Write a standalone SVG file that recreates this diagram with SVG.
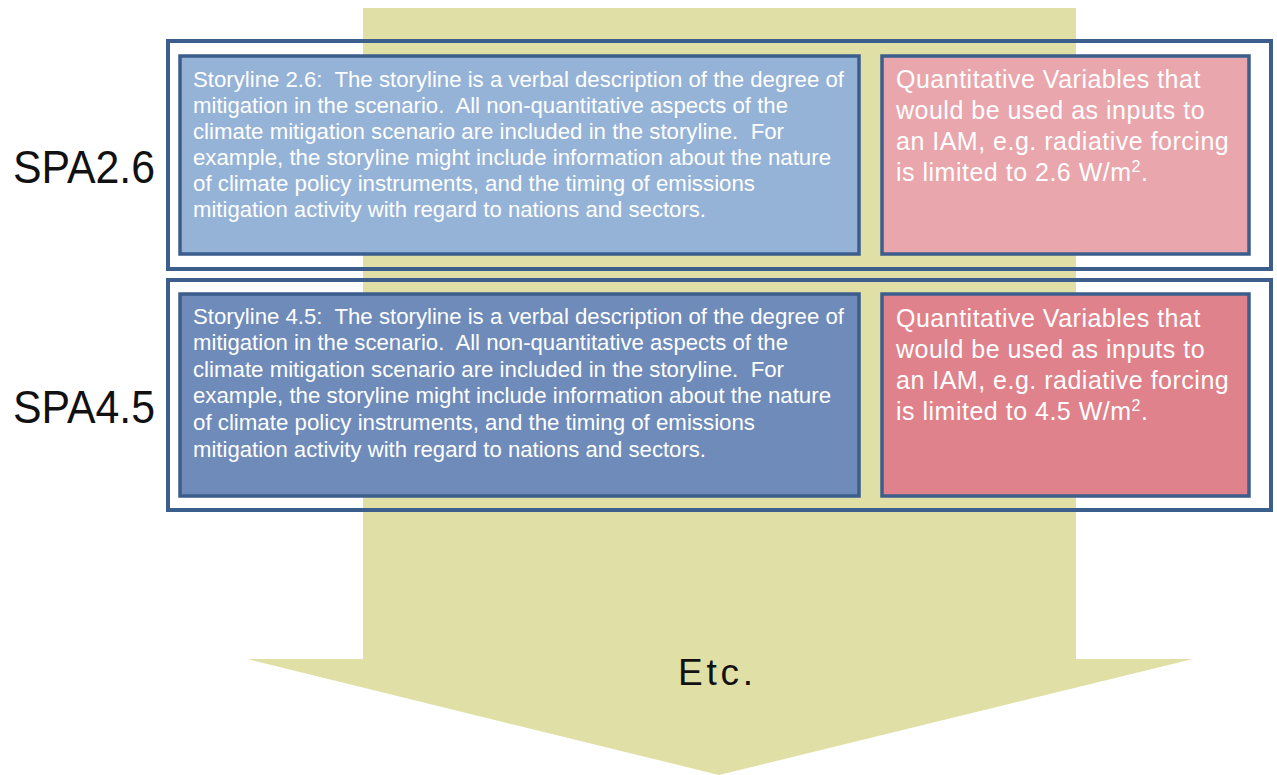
<svg xmlns="http://www.w3.org/2000/svg" width="1277" height="775" viewBox="0 0 1277 775">
<style>
.frame{fill:none;stroke:#3B5E8C;stroke-width:4}
.box{stroke:#3B5E8C;stroke-width:3.5}
.story{font-family:"Liberation Sans",Arial,sans-serif;font-size:22px;fill:#FFFFFF;white-space:pre}
.quant{font-family:"Liberation Sans",Arial,sans-serif;font-size:25px;fill:#FFFFFF;letter-spacing:0.5px}
.lbl{font-family:"Liberation Sans",Arial,sans-serif;font-size:47px;fill:#111111}
.etc{font-family:"Liberation Sans",Arial,sans-serif;font-size:37px;fill:#111111}
</style>
<rect width="1277" height="775" fill="#FFFFFF"/>
<g id="arrow">
<polygon points="363,8 1076,8 1076,659 1193,659 719,775 247,659 363,659" fill="#E0DFA5"/>
<text class="etc" x="678" y="685" textLength="75" lengthAdjust="spacing">Etc.</text>
</g>
<g id="spa26">
<text class="lbl" x="13" y="183" textLength="142" lengthAdjust="spacingAndGlyphs">SPA2.6</text>
<rect class="frame" x="168" y="41" width="1103" height="228"/>
<g id="storyline26">
<rect class="box" x="180" y="56" width="679" height="198" fill="#95B3D7"/>
<text class="story" xml:space="preserve"><tspan x="193" y="87" textLength="651" lengthAdjust="spacingAndGlyphs">Storyline 2.6:  The storyline is a verbal description of the degree of</tspan><tspan x="193" y="113" textLength="595" lengthAdjust="spacingAndGlyphs">mitigation in the scenario.  All non-quantitative aspects of the</tspan><tspan x="193" y="139" textLength="591" lengthAdjust="spacingAndGlyphs">climate mitigation scenario are included in the storyline.  For</tspan><tspan x="193" y="165" textLength="638" lengthAdjust="spacingAndGlyphs">example, the storyline might include information about the nature</tspan><tspan x="193" y="191" textLength="562" lengthAdjust="spacingAndGlyphs">of climate policy instruments, and the timing of emissions</tspan><tspan x="193" y="217" textLength="513" lengthAdjust="spacingAndGlyphs">mitigation activity with regard to nations and sectors.</tspan></text>
</g>
<g id="quant26">
<rect class="box" x="882" y="56" width="367" height="198" fill="#E9A6AC"/>
<text class="quant">
<tspan x="896" y="88">Quantitative Variables that</tspan>
<tspan x="896" y="119">would be used as inputs to</tspan>
<tspan x="896" y="150">an IAM, e.g. radiative forcing</tspan>
<tspan x="896" y="181">is limited to 2.6 W/m<tspan font-size="16" dy="-9">2</tspan><tspan dy="9">.</tspan></tspan>
</text>
</g>
</g>
<g id="spa45">
<text class="lbl" x="13" y="423" textLength="142" lengthAdjust="spacingAndGlyphs">SPA4.5</text>
<rect class="frame" x="168" y="280" width="1103" height="230"/>
<g id="storyline45">
<rect class="box" x="180" y="294" width="679" height="202" fill="#6E8BBA"/>
<text class="story" xml:space="preserve"><tspan x="193" y="324" textLength="651" lengthAdjust="spacingAndGlyphs">Storyline 4.5:  The storyline is a verbal description of the degree of</tspan><tspan x="193" y="350" textLength="595" lengthAdjust="spacingAndGlyphs">mitigation in the scenario.  All non-quantitative aspects of the</tspan><tspan x="193" y="377" textLength="591" lengthAdjust="spacingAndGlyphs">climate mitigation scenario are included in the storyline.  For</tspan><tspan x="193" y="403" textLength="638" lengthAdjust="spacingAndGlyphs">example, the storyline might include information about the nature</tspan><tspan x="193" y="430" textLength="562" lengthAdjust="spacingAndGlyphs">of climate policy instruments, and the timing of emissions</tspan><tspan x="193" y="457" textLength="513" lengthAdjust="spacingAndGlyphs">mitigation activity with regard to nations and sectors.</tspan></text>
</g>
<g id="quant45">
<rect class="box" x="882" y="294" width="367" height="202" fill="#E0828B"/>
<text class="quant">
<tspan x="896" y="327">Quantitative Variables that</tspan>
<tspan x="896" y="358">would be used as inputs to</tspan>
<tspan x="896" y="389">an IAM, e.g. radiative forcing</tspan>
<tspan x="896" y="420">is limited to 4.5 W/m<tspan font-size="16" dy="-9">2</tspan><tspan dy="9">.</tspan></tspan>
</text>
</g>
</g>
<g id="connectors"/>
</svg>
